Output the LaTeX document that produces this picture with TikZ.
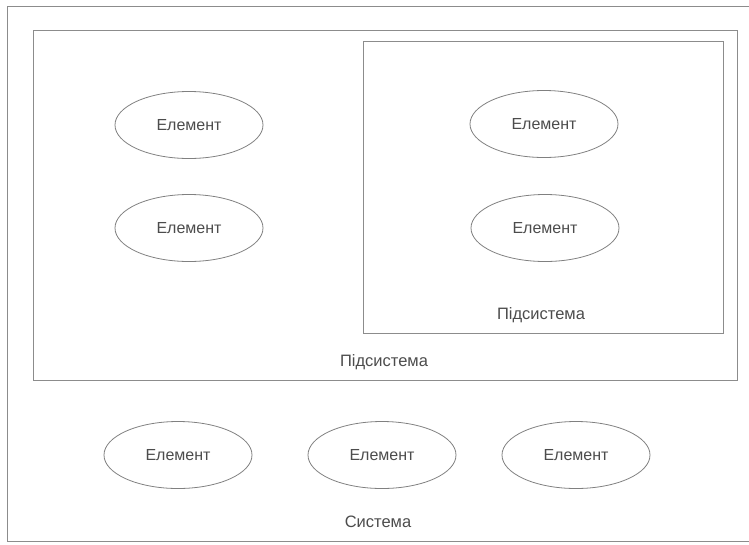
\documentclass[tikz,border=0pt]{standalone}
\usepackage{fontspec}
\setmainfont{Liberation Sans}
\usetikzlibrary{shapes.geometric}
\begin{document}
\begin{tikzpicture}[x=1pt,y=-1pt,
  frame/.style={draw=black!45, line width=0.9pt, rectangle, inner sep=0pt},
  elem/.style={draw=black!50, line width=0.8pt, ellipse, inner sep=0pt,
    minimum width=148pt, minimum height=67pt, text=black!70, font=\fontsize{16}{18}\selectfont},
  lbl/.style={text=black!70, font=\fontsize{16.5}{19}\selectfont, inner sep=0pt}]
\useasboundingbox (0,0) rectangle (749,544);
\node[frame, minimum width=748pt, minimum height=535pt] (sys) at (381,273.5) {};
\node[frame, minimum width=704pt, minimum height=350pt] (sub1) at (385,205) {};
\node[frame, minimum width=360pt, minimum height=292pt] (sub2) at (543,187) {};
\node[elem] (e1) at (189,125) {Елемент};
\node[elem] (e2) at (189,228) {Елемент};
\node[elem] (e3) at (544,124) {Елемент};
\node[elem] (e4) at (545,228) {Елемент};
\node[elem] (e5) at (178,455) {Елемент};
\node[elem] (e6) at (382,455) {Елемент};
\node[elem] (e7) at (576,455) {Елемент};
\node[lbl] (l2) at (541,315) {Підсистема};
\node[lbl] (l1) at (384,362) {Підсистема};
\node[lbl] (l0) at (378,522) {Система};
\end{tikzpicture}
\end{document}
